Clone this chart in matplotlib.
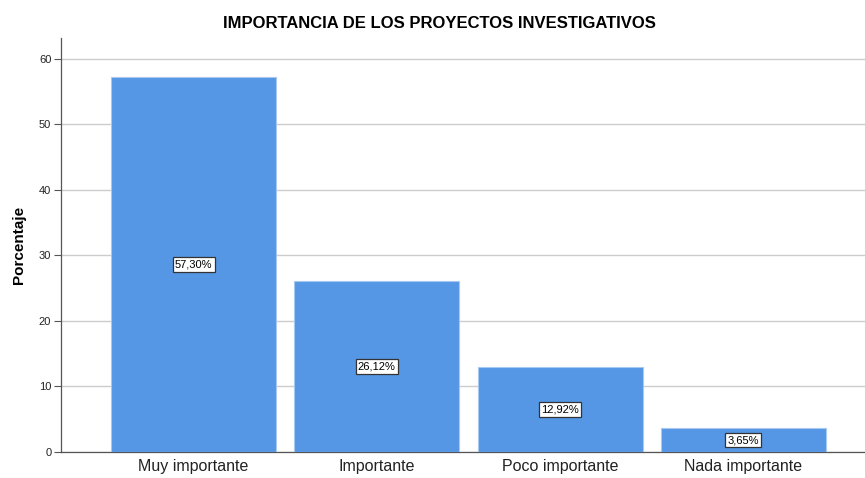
import matplotlib
matplotlib.use("Agg")
import matplotlib.pyplot as plt

categories = ["Muy importante", "Importante", "Poco importante", "Nada importante"]
values = [57.30, 26.12, 12.92, 3.65]
labels = ["57,30%", "26,12%", "12,92%", "3,65%"]
yticks = [0, 10, 20, 30, 40, 50, 60]

plt.rcParams['font.family'] = ['Liberation Sans', 'DejaVu Sans']

fig = plt.figure(figsize=(8.65, 4.78), dpi=100)
ax = fig.add_axes([61/865, 1-452/478, (865-61)/865, (452-38)/478])

x = list(range(len(categories)))
ax.bar(x, values, width=0.9, color="#5596E5", edgecolor="#A9C8F0", linewidth=0.8, zorder=3)
for xi, v, lab in zip(x, values, labels):
    ax.text(xi, v/2, lab, ha="center", va="center", fontsize=8, color="black", zorder=5,
            bbox=dict(boxstyle="square,pad=0.2", facecolor="white", edgecolor="#333333", linewidth=0.9))

ax.set_xlim(-0.723, 3.663)
ax.set_ylim(0, 63.2)
ax.set_yticks(yticks)
ax.set_yticklabels([str(t) for t in yticks], fontsize=8, color="#222222")
ax.set_xticks(x)
ax.set_xticklabels(categories, fontsize=11.5, color="#222222")
ax.tick_params(axis='x', length=0, pad=5)
ax.tick_params(axis='y', length=5, width=0.8, color="#555555", pad=2)
ax.yaxis.grid(True, color="#CCCCCC", linewidth=1.0, zorder=0)
ax.set_axisbelow(True)
for s in ["top", "right"]:
    ax.spines[s].set_visible(False)
for s in ["left", "bottom"]:
    ax.spines[s].set_color("#555555")
    ax.spines[s].set_linewidth(0.9)

ax.set_ylabel("Porcentaje", fontsize=11, fontweight="bold", labelpad=9)
fig.text(439/865, 1-24/478, "IMPORTANCIA DE LOS PROYECTOS INVESTIGATIVOS", ha="center", va="center",
         fontsize=12, fontweight="bold")

fig.savefig("out.png", dpi=100)
